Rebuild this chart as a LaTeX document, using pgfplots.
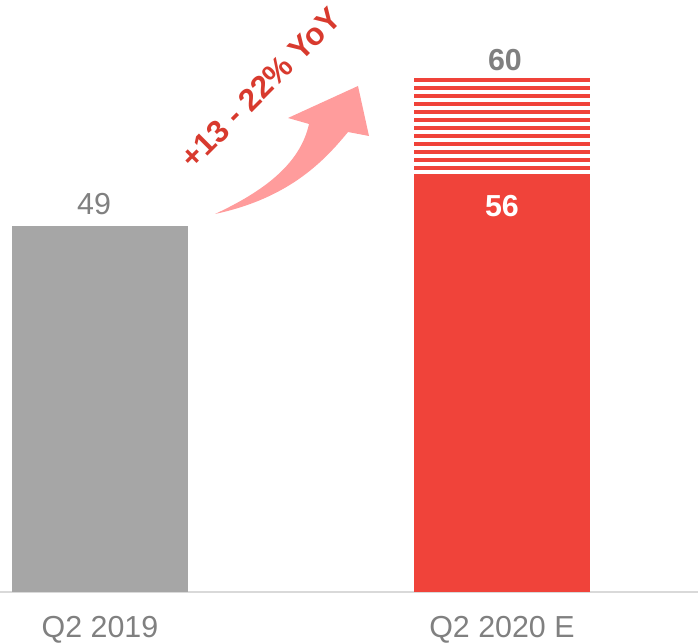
\documentclass[border=0pt]{standalone}
\usepackage{fontspec}
\setmainfont{Liberation Sans}
\usepackage{pgfplots}
\pgfplotsset{compat=1.18}

\definecolor{barred}{HTML}{F0433A}
\definecolor{bargray}{HTML}{A6A6A6}
\definecolor{txtgray}{HTML}{808080}
\definecolor{txtred}{HTML}{D83A2E}
\definecolor{arrowpink}{HTML}{FF9C9C}
\definecolor{axisgray}{HTML}{D9D9D9}

\begin{document}
\begin{tikzpicture}
\begin{axis}[
    at={(0,0)}, anchor=south west,
    scale only axis, width=698bp, height=592bp,
    xmin=-0.2488, xmax=1.4876, ymin=0, ymax=79.25,
    axis y line=none, axis x line*=bottom,
    x axis line style={axisgray, line width=1.5bp},
    xtick={0,1}, xticklabels={Q2 2019, Q2 2020 E},
    major tick length=0pt, ytick=\empty,
    xticklabel style={font=\fontsize{30.5}{36}\selectfont, text=txtgray,
        anchor=north, inner sep=0pt, yshift=-24bp},
    /pgf/number format/assume math mode=true,
    clip=false,
    bar width=176bp,
]
% Q2 2019
\addplot[ybar, bar shift=0pt, fill=bargray, draw=none,
    nodes near coords,
    nodes near coords style={font=\fontsize{30.5}{36}\selectfont, text=txtgray,
        anchor=south, inner sep=0pt, xshift=-6bp, yshift=11bp}]
    coordinates {(0,49)};
% Q2 2020 E, solid part
\addplot[ybar, bar shift=0pt, fill=barred, draw=none,
    nodes near coords,
    nodes near coords style={font=\bfseries\fontsize{30.5}{36}\selectfont, text=white,
        anchor=north, inner sep=0pt, yshift=-21bp}]
    coordinates {(1,56)};
% Q2 2020 E, striped range up to the estimate
\addplot[barred, line width=4bp, mark=none, unbounded coords=jump]
    coordinates {
    (0.7811,56.80) (1.2189,56.80) (1,nan)
    (0.7811,57.87) (1.2189,57.87) (1,nan)
    (0.7811,58.94) (1.2189,58.94) (1,nan)
    (0.7811,60.01) (1.2189,60.01) (1,nan)
    (0.7811,61.09) (1.2189,61.09) (1,nan)
    (0.7811,62.16) (1.2189,62.16) (1,nan)
    (0.7811,63.23) (1.2189,63.23) (1,nan)
    (0.7811,64.30) (1.2189,64.30) (1,nan)
    (0.7811,65.37) (1.2189,65.37) (1,nan)
    (0.7811,66.44) (1.2189,66.44) (1,nan)
    (0.7811,67.51) (1.2189,67.51) (1,nan)
    (0.7811,68.58) (1.2189,68.58)
    };
\node[font=\bfseries\fontsize{30.5}{36}\selectfont, text=txtgray,
    anchor=south, inner sep=0pt, xshift=3bp, yshift=7bp] at (axis cs:1,68.85) {60};
\end{axis}

% growth arrow and annotation, in pixel units of the reference
\begin{scope}[x=1bp, y=-1bp, yshift=592bp]
  \fill[arrowpink] (215,214) .. controls (262,192) and (300,165) .. (309,124)
      -- (288,118) -- (358,86) -- (369,136) -- (348,132)
      .. controls (325,160) and (290,198) .. (215,214) -- cycle;
  \node[rotate=45, text=txtred, font=\bfseries\fontsize{31.5}{37}\selectfont,
      inner sep=0pt] at (261,88) {+13 - 22\% YoY};
\end{scope}

\pgfresetboundingbox
\path[use as bounding box] (0,-52bp) rectangle (698bp,592bp);
\end{tikzpicture}
\end{document}
